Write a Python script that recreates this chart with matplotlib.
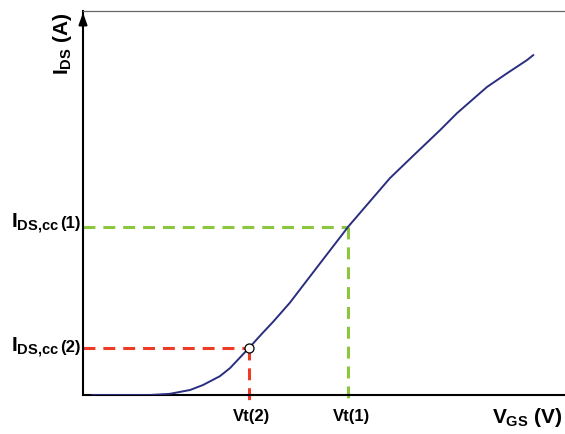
import numpy as np
import matplotlib
matplotlib.use("Agg")
import matplotlib.pyplot as plt

plt.rcParams['font.family'] = ['Liberation Sans', 'DejaVu Sans']
plt.rcParams['font.weight'] = 'bold'
plt.rcParams['mathtext.fontset'] = 'custom'
plt.rcParams['mathtext.rm'] = 'Liberation Sans:bold'
plt.rcParams['mathtext.it'] = 'Liberation Sans:bold'
plt.rcParams['mathtext.bf'] = 'Liberation Sans:bold'

# transfer curve I_DS vs V_GS (arbitrary units)
vgs = [0.19, 1.39, 1.80, 2.22, 2.49, 2.84, 3.05, 3.44, 3.73, 3.94, 4.29, 4.65,
       4.98, 5.33, 5.50, 6.02, 6.37, 6.85, 7.41, 7.76, 8.38, 8.80, 9.21, 9.34]
ids = [0.00, 0.00, 0.03, 0.13, 0.26, 0.49, 0.70, 1.22, 1.62, 1.90, 2.40, 2.99,
       3.53, 4.10, 4.38, 5.14, 5.65, 6.23, 6.90, 7.34, 8.02, 8.38, 8.72, 8.85]

# constant-current points
vt = {'1': 5.50, '2': 3.44}
ids_cc = {'1': 4.38, '2': 1.22}
colors = {'1': '#8cc63e', '2': '#ee3b26'}

fig = plt.figure(figsize=(5.65, 4.34), dpi=100)
ax = fig.add_axes([83 / 565, 39 / 434, 482 / 565, 384 / 434])
ax.set_xlim(0, 10)
ax.set_ylim(0, 10)

for k in ['1', '2']:
    ax.plot([0, vt[k]], [ids_cc[k], ids_cc[k]], color=colors[k], lw=2.2,
            dashes=(3.9, 2.6), zorder=2)
    ax.plot([vt[k], vt[k]], [ids_cc[k], -0.18], color=colors[k], lw=2.2,
            dashes=(3.9, 2.6), clip_on=False, zorder=2)

ax.plot(vgs, ids, color='#2b2e80', lw=1.4, zorder=3)
ax.plot([vt['2']], [ids_cc['2']], 'o', ms=6.5, mfc='white', mec='black',
        mew=0.9, zorder=4, clip_on=False)

# axes look
ax.spines['right'].set_visible(False)
ax.spines['top'].set_color('#666666')
ax.spines['top'].set_linewidth(0.9)
ax.spines['left'].set_linewidth(1.5)
ax.spines['bottom'].set_linewidth(1.5)
ax.set_xticks([])
ax.set_yticks([])
ax.annotate('', xy=(0, 1.003), xycoords='axes fraction', xytext=(0, 0.97),
            arrowprops=dict(arrowstyle='-|>,head_length=0.7,head_width=0.25',
                            color='black', lw=1.5))

# tick-like labels
ytr = ax.get_yaxis_transform()
xtr = ax.get_xaxis_transform()
for k in ['1', '2']:
    off = -1 if k == '1' else -4
    ax.annotate('(%s)' % k, xy=(0, ids_cc[k]), xycoords=ytr, xytext=(-2, off),
                textcoords='offset pixels', ha='right', va='baseline',
                fontsize=12, fontweight='bold')
    ax.annotate('$I_{DS{,}cc}$', xy=(0, ids_cc[k]), xycoords=ytr,
                xytext=(-24, off), textcoords='offset pixels', ha='right',
                va='baseline', fontsize=15)
    ax.annotate('Vt(%s)' % k, xy=(vt[k], 0), xycoords=xtr, xytext=(3, -26),
                textcoords='offset pixels', ha='center', va='baseline',
                fontsize=12, fontweight='bold')

ax.annotate('$V_{GS}$ (V)', xy=(1, 0), xycoords='axes fraction',
            xytext=(-3, -28), textcoords='offset pixels', ha='right',
            va='baseline', fontsize=15, fontweight='bold')
fig.text(63 / 565, 1 - 44 / 434, '$I_{DS}$ (A)', rotation=90, ha='center',
         va='center', fontsize=15, fontweight='bold')

fig.savefig('out.png', dpi=100)
